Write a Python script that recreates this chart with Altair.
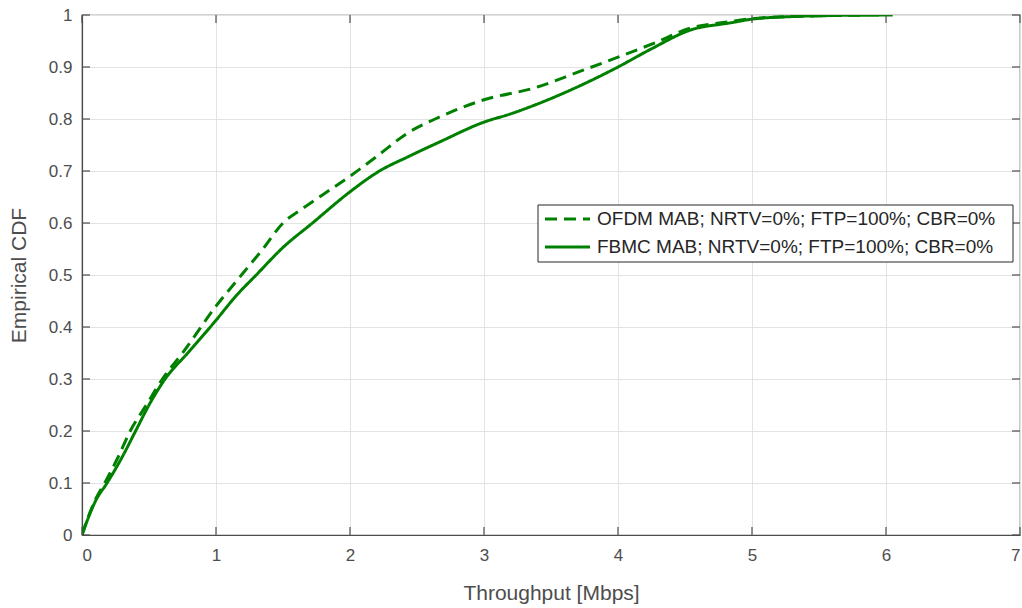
import altair as alt
import pandas as pd

fbmc_x = [0, 0.05, 0.1, 0.187, 0.3, 0.4, 0.5, 0.62, 0.8, 1.0, 1.15, 1.3, 1.5, 1.72, 2.0, 2.22, 2.43, 2.67, 3.0, 3.2, 3.42, 3.75, 4.0, 4.25, 4.54, 4.84, 5.0, 5.3, 5.6, 6.05]
fbmc_y = [0, 0.035, 0.065, 0.1, 0.15, 0.2, 0.25, 0.3, 0.353, 0.413, 0.46, 0.5, 0.553, 0.6, 0.66, 0.7, 0.727, 0.756, 0.794, 0.81, 0.831, 0.868, 0.90, 0.935, 0.971, 0.985, 0.992, 0.997, 0.999, 1.0]
ofdm_x = [0, 0.05, 0.1, 0.18, 0.27, 0.36, 0.48, 0.6, 0.75, 1.0, 1.19, 1.35, 1.5, 1.63, 1.8, 2.0, 2.2, 2.43, 2.67, 3.0, 3.38, 3.7, 4.0, 4.29, 4.54, 4.8, 5.0, 5.3, 5.6, 6.0]
ofdm_y = [0, 0.037, 0.068, 0.105, 0.15, 0.2, 0.25, 0.3, 0.35, 0.44, 0.5, 0.55, 0.6, 0.625, 0.655, 0.69, 0.728, 0.773, 0.804, 0.837, 0.86, 0.89, 0.919, 0.948, 0.975, 0.986, 0.993, 0.997, 0.999, 1.0]

ofdm_name = "OFDM MAB; NRTV=0%; FTP=100%; CBR=0%"
fbmc_name = "FBMC MAB; NRTV=0%; FTP=100%; CBR=0%"
x_ticks = [0, 1, 2, 3, 4, 5, 6, 7]
y_ticks = [0, 0.1, 0.2, 0.3, 0.4, 0.5, 0.6, 0.7, 0.8, 0.9, 1.0]

df = pd.concat([
    pd.DataFrame({"x": ofdm_x, "y": ofdm_y, "series": ofdm_name, "order": range(len(ofdm_x))}),
    pd.DataFrame({"x": fbmc_x, "y": fbmc_y, "series": fbmc_name, "order": range(len(fbmc_x))}),
])

W, H = 938, 520
FONT = "Liberation Sans"
GRAY = "#4d4d4d"
GREEN = "#008000"
DASH = [12, 7]

xscale = alt.Scale(domain=[0, 7], nice=False)
yscale = alt.Scale(domain=[0, 1], nice=False)

lines = alt.Chart(df).mark_line(strokeWidth=3, clip=True, interpolate="monotone").encode(
    x=alt.X("x:Q", scale=xscale, title="Throughput [Mbps]",
            axis=alt.Axis(values=x_ticks, format="d", tickSize=0, labelPadding=12,
                          titlePadding=19)),
    y=alt.Y("y:Q", scale=yscale, title="Empirical CDF",
            axis=alt.Axis(values=y_ticks, format="~g", tickSize=0, labelPadding=10,
                          titlePadding=19)),
    color=alt.Color("series:N", scale=alt.Scale(domain=[ofdm_name, fbmc_name], range=[GREEN, GREEN]),
                    legend=None),
    strokeDash=alt.StrokeDash("series:N", scale=alt.Scale(domain=[ofdm_name, fbmc_name], range=[DASH, [1, 0]]),
                              legend=None),
    order="order:Q",
)

xt = pd.DataFrame({"t": x_ticks})
yt = pd.DataFrame({"t": y_ticks})
xtick_bot = alt.Chart(xt).mark_rule(color=GRAY, strokeWidth=1.2).encode(
    x=alt.X("t:Q", scale=xscale), y=alt.value(H - 8), y2=alt.value(H))
xtick_top = alt.Chart(xt).mark_rule(color=GRAY, strokeWidth=1.2).encode(
    x=alt.X("t:Q", scale=xscale), y=alt.value(0), y2=alt.value(8))
ytick_l = alt.Chart(yt).mark_rule(color=GRAY, strokeWidth=1.2).encode(
    y=alt.Y("t:Q", scale=yscale), x=alt.value(0), x2=alt.value(8))
ytick_r = alt.Chart(yt).mark_rule(color=GRAY, strokeWidth=1.2).encode(
    y=alt.Y("t:Q", scale=yscale), x=alt.value(W - 8), x2=alt.value(W))

# manual legend box (pixel layout inside the plot area)
LX0, LX1, LY0, LY1 = 456, 931, 190, 247
ROW1, ROW2 = 204, 232
SYM0, SYM1, TXT = 463, 508, 515
one = pd.DataFrame({"a": [0]})
leg_box = alt.Chart(one).mark_rect(fill="white", stroke="#262626", strokeWidth=1).encode(
    x=alt.value(LX0), x2=alt.value(LX1), y=alt.value(LY0), y2=alt.value(LY1))
leg_sym1 = alt.Chart(one).mark_rule(color=GREEN, strokeWidth=3, strokeDash=DASH).encode(
    x=alt.value(SYM0), x2=alt.value(SYM1), y=alt.value(ROW1))
leg_sym2 = alt.Chart(one).mark_rule(color=GREEN, strokeWidth=3).encode(
    x=alt.value(SYM0), x2=alt.value(SYM1), y=alt.value(ROW2))
leg_txt1 = alt.Chart(pd.DataFrame({"label": [ofdm_name]})).mark_text(
    align="left", baseline="middle", font=FONT, fontSize=19, color="#262626").encode(
    text="label:N", x=alt.value(TXT), y=alt.value(ROW1))
leg_txt2 = alt.Chart(pd.DataFrame({"label": [fbmc_name]})).mark_text(
    align="left", baseline="middle", font=FONT, fontSize=19, color="#262626").encode(
    text="label:N", x=alt.value(TXT), y=alt.value(ROW2))

chart = alt.layer(lines, xtick_bot, xtick_top, ytick_l, ytick_r,
                  leg_box, leg_sym1, leg_sym2, leg_txt1, leg_txt2).properties(
    width=W, height=H,
    autosize=alt.AutoSizeParams(type="none"),
    padding={"left": 82, "top": 15, "right": 2, "bottom": 73},
    background="white",
).configure_view(
    stroke=GRAY, strokeWidth=1.2
).configure_axis(
    labelFont=FONT, titleFont=FONT, labelFontSize=17, titleFontSize=21,
    labelColor=GRAY, titleColor=GRAY, titleFontWeight="normal", domainWidth=1.2,
    domainColor=GRAY, gridColor="#e3e3e3",
)

chart.save("out.html", embed_options={"renderer": "svg", "actions": False})
